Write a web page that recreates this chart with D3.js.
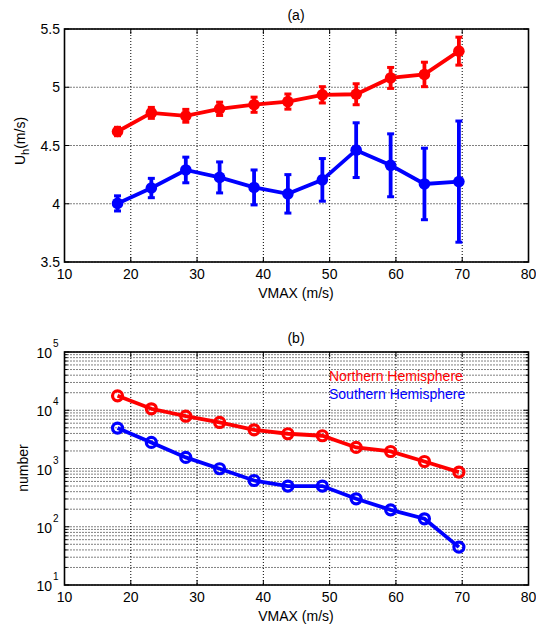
<!DOCTYPE html>
<html>
<head>
<meta charset="utf-8">
<script src="https://cdn.jsdelivr.net/npm/d3@7"></script>
<style>
  body { margin: 0; background: #fff; }
  svg { display: block; font-family: "Liberation Sans", Arial, sans-serif; }
</style>
</head>
<body>
<svg></svg>
<script>
const width = 536
const height = 628

// VMAX bins (m/s)
const vmax = [18, 23.1, 28.3, 33.4, 38.6, 43.7, 48.9, 54, 59.2, 64.3, 69.5]

// (a) Uh mean and error
const uhNorth = [4.62, 4.78, 4.755, 4.815, 4.85, 4.877, 4.935, 4.94, 5.08, 5.11, 5.31]
const errNorth = [0.036, 0.047, 0.055, 0.057, 0.065, 0.065, 0.07, 0.09, 0.09, 0.105, 0.12]
const uhSouth = [4.003, 4.135, 4.29, 4.226, 4.14, 4.085, 4.205, 4.46, 4.33, 4.17, 4.19]
const errSouth = [0.065, 0.083, 0.11, 0.133, 0.15, 0.165, 0.183, 0.235, 0.27, 0.307, 0.52]

// (b) number of samples
const numNorth = [17700, 10600, 7900, 6170, 4620, 3950, 3650, 2300, 1960, 1320, 867]
const numSouth = [4940, 2800, 1550, 990, 622, 500, 500, 302, 195, 137, 44.7]

const xTicks = [10, 20, 30, 40, 50, 60, 70, 80]
const uhTicks = [3.5, 4, 4.5, 5, 5.5]
const logTicks = [1, 2, 3, 4, 5]

const red = '#ff0000'
const blue = '#0000ff'

const svg = d3.select('svg')
  .attr('width', width)
  .attr('height', height)
  .attr('viewBox', [0, 0, width, height])

const x = d3.scaleLinear().domain([10, 80]).range([64.5, 528.5])

const yA = d3.scaleLinear().domain([3.5, 5.5]).range([262, 29])
const yB = d3.scaleLog().domain([10, 1e5]).range([585, 352])

// 网格 + 刻度 + 边框
function drawFrame(y, top, bottom, majors, minors) {
  const g = svg.append('g')
  const left = x.range()[0]
  const right = x.range()[1]

  const dotted = sel => sel.attr('stroke', '#000').attr('stroke-width', 1)
    .attr('stroke-dasharray', '1,2')

  minors.forEach(v => {
    g.append('line').call(dotted)
      .attr('x1', left).attr('x2', right).attr('y1', y(v)).attr('y2', y(v))
    g.append('line').attr('stroke', '#000').attr('stroke-width', 1)
      .attr('x1', left).attr('x2', left + 3).attr('y1', y(v)).attr('y2', y(v))
    g.append('line').attr('stroke', '#000').attr('stroke-width', 1)
      .attr('x1', right - 3).attr('x2', right).attr('y1', y(v)).attr('y2', y(v))
  })
  majors.forEach(v => {
    g.append('line').call(dotted)
      .attr('x1', left).attr('x2', right).attr('y1', y(v)).attr('y2', y(v))
    g.append('line').attr('stroke', '#000').attr('stroke-width', 1)
      .attr('x1', left).attr('x2', left + 5).attr('y1', y(v)).attr('y2', y(v))
    g.append('line').attr('stroke', '#000').attr('stroke-width', 1)
      .attr('x1', right - 5).attr('x2', right).attr('y1', y(v)).attr('y2', y(v))
  })
  xTicks.forEach(v => {
    g.append('line').call(dotted)
      .attr('x1', x(v)).attr('x2', x(v)).attr('y1', top).attr('y2', bottom)
    g.append('line').attr('stroke', '#000').attr('stroke-width', 1)
      .attr('x1', x(v)).attr('x2', x(v)).attr('y1', bottom).attr('y2', bottom - 5)
    g.append('line').attr('stroke', '#000').attr('stroke-width', 1)
      .attr('x1', x(v)).attr('x2', x(v)).attr('y1', top).attr('y2', top + 5)
  })
  g.append('rect')
    .attr('x', left).attr('y', top)
    .attr('width', right - left).attr('height', bottom - top)
    .attr('fill', 'none').attr('stroke', '#000').attr('stroke-width', 1.6)

  // x tick labels
  xTicks.forEach(v => {
    svg.append('text').text(v)
      .attr('x', x(v)).attr('y', bottom + 17)
      .attr('text-anchor', 'middle').attr('font-size', 14)
  })
  svg.append('text').text('VMAX (m/s)')
    .attr('x', 296).attr('y', bottom + 36)
    .attr('text-anchor', 'middle').attr('font-size', 14)
}

// ---------- (a) ----------
drawFrame(yA, 29, 262, uhTicks, [])

uhTicks.forEach(v => {
  svg.append('text').text(v)
    .attr('x', 60).attr('y', yA(v) + 5)
    .attr('text-anchor', 'end').attr('font-size', 14)
})

svg.append('text').text('(a)')
  .attr('x', 296).attr('y', 20)
  .attr('text-anchor', 'middle').attr('font-size', 14)

const ylabA = svg.append('text')
  .attr('transform', 'translate(25,141) rotate(-90)')
  .attr('text-anchor', 'middle').attr('font-size', 14)
ylabA.append('tspan').text('U')
ylabA.append('tspan').text('h').attr('font-size', 11).attr('dy', 4)
ylabA.append('tspan').text('(m/s)').attr('dy', -4)

function drawErrSeries(vals, errs, color) {
  const g = svg.append('g')
  const line = d3.line().x((d, i) => x(vmax[i])).y(d => yA(d))
  g.append('path').datum(vals)
    .attr('d', line).attr('fill', 'none')
    .attr('stroke', color).attr('stroke-width', 3.8)
  vals.forEach((v, i) => {
    const cx = x(vmax[i])
    const y1 = yA(v + errs[i])
    const y2 = yA(v - errs[i])
    g.append('line').attr('x1', cx).attr('x2', cx).attr('y1', y1).attr('y2', y2)
      .attr('stroke', color).attr('stroke-width', 3.8)
    ;[y1, y2].forEach(yy => {
      g.append('line').attr('x1', cx - 3.5).attr('x2', cx + 3.5).attr('y1', yy).attr('y2', yy)
        .attr('stroke', color).attr('stroke-width', 3)
    })
    g.append('circle').attr('cx', cx).attr('cy', yA(v)).attr('r', 5.8)
      .attr('fill', color)
  })
}

drawErrSeries(uhNorth, errNorth, red)
drawErrSeries(uhSouth, errSouth, blue)

// ---------- (b) ----------
const minorTicks = []
for (let e = 1; e < 5; e++) {
  for (let k = 2; k <= 9; k++) minorTicks.push(k * Math.pow(10, e))
}
drawFrame(yB, 352, 585, logTicks.map(e => Math.pow(10, e)), minorTicks)

logTicks.forEach(e => {
  const t = svg.append('text')
    .attr('x', 52).attr('y', yB(Math.pow(10, e)) + 6)
    .attr('text-anchor', 'end').attr('font-size', 14)
  t.text('10')
  svg.append('text').text(e)
    .attr('x', 53).attr('y', yB(Math.pow(10, e)) - 5)
    .attr('text-anchor', 'start').attr('font-size', 10)
})

svg.append('text').text('(b)')
  .attr('x', 296).attr('y', 343)
  .attr('text-anchor', 'middle').attr('font-size', 14)

svg.append('text').text('number')
  .attr('transform', 'translate(28,468) rotate(-90)')
  .attr('text-anchor', 'middle').attr('font-size', 14)

function drawCountSeries(vals, color) {
  const g = svg.append('g')
  const line = d3.line().x((d, i) => x(vmax[i])).y(d => yB(d))
  g.append('path').datum(vals)
    .attr('d', line).attr('fill', 'none')
    .attr('stroke', color).attr('stroke-width', 3.8)
  vals.forEach((v, i) => {
    g.append('circle').attr('cx', x(vmax[i])).attr('cy', yB(v)).attr('r', 5)
      .attr('fill', 'none').attr('stroke', color).attr('stroke-width', 3.2)
  })
}

drawCountSeries(numNorth, red)
drawCountSeries(numSouth, blue)

// legend text
svg.append('text').text('Northern Hemisphere')
  .attr('x', 329).attr('y', 381)
  .attr('fill', red).attr('font-size', 14)
svg.append('text').text('Southern Hemisphere')
  .attr('x', 329).attr('y', 399)
  .attr('fill', blue).attr('font-size', 14)
</script>
</body>
</html>
